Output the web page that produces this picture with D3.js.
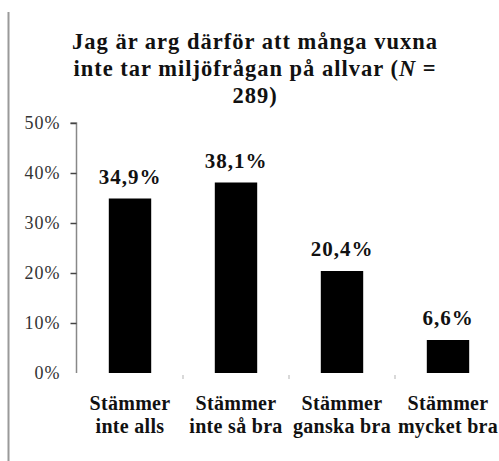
<!DOCTYPE html>
<html>
<head>
<meta charset="utf-8">
<script src="https://cdn.jsdelivr.net/npm/d3@7"></script>
<style>
  body { margin: 0; background: #fff; }
  svg { display: block; }
</style>
</head>
<body>
<div id="chart"></div>
<script>
const titleLines = ["Jag är arg därför att många vuxna", "inte tar miljöfrågan på allvar (", "289)"];
const categories = [["Stämmer", "inte alls"], ["Stämmer", "inte så bra"], ["Stämmer", "ganska bra"], ["Stämmer", "mycket bra"]];
const values = [34.9, 38.1, 20.4, 6.6];
const valueLabels = ["34,9%", "38,1%", "20,4%", "6,6%"];
const yTicks = [0, 10, 20, 30, 40, 50];

const W = 499, H = 461;
const FONT = "Liberation Serif";
const svg = d3.select("#chart").append("svg").attr("width", W).attr("height", H)
    .attr("font-family", FONT);

// grey frame line on the left
svg.append("line")
    .attr("x1", 8.5).attr("x2", 8.5).attr("y1", 12).attr("y2", H)
    .attr("stroke", "#9a9a9a").attr("stroke-width", 2);

const x = d3.scaleBand()
    .domain(d3.range(categories.length))
    .range([77, 501])
    .paddingInner(0.6)
    .paddingOuter(0.3);

const y = d3.scaleLinear().domain([0, 50]).range([373, 123]);

// title
const title = svg.append("text")
    .attr("font-family", FONT)
    .attr("text-anchor", "middle")
    .attr("font-weight", "bold")
    .attr("font-size", 22.5)
    .attr("letter-spacing", 1)
    .attr("fill", "#111");
title.append("tspan").attr("x", 255).attr("y", 49).text(titleLines[0]);
const l2 = title.append("tspan").attr("x", 255).attr("y", 76);
l2.append("tspan").text(titleLines[1]);
l2.append("tspan").attr("font-style", "italic").text("N");
l2.append("tspan").text(" =");
title.append("tspan").attr("x", 255).attr("y", 103).text(titleLines[2]);

// y axis
const yAxis = svg.append("g")
    .attr("transform", "translate(76.5,0)")
    .call(d3.axisLeft(y).tickValues(yTicks).tickSize(6).tickPadding(10).tickFormat(d => d + "%"));
yAxis.attr("font-family", FONT);
yAxis.select(".domain").attr("stroke", "#888").attr("stroke-width", 1.5).attr("d", `M-6,${y(50)}H0V${y(0)}`);
yAxis.selectAll(".tick line").attr("stroke", "#444").attr("stroke-width", 1.5);
yAxis.selectAll(".tick text")
    .attr("font-family", FONT)
    .attr("font-size", 18)
    .attr("letter-spacing", 1)
    .attr("fill", "#333");
yAxis.select(".tick:first-of-type line").remove();

// small category separator ticks
const step = x.step();
svg.append("g").selectAll("line")
    .data(d3.range(categories.length))
    .join("line")
    .attr("x1", d => x(d) + x.bandwidth() + (step - x.bandwidth()) / 2)
    .attr("x2", d => x(d) + x.bandwidth() + (step - x.bandwidth()) / 2)
    .attr("y1", y(0) + 2).attr("y2", y(0) + 6)
    .attr("stroke", "#ccc").attr("stroke-width", 1.5);

// bars
svg.append("g")
    .selectAll("rect")
    .data(values)
    .join("rect")
    .attr("x", (d, i) => x(i))
    .attr("y", d => y(d))
    .attr("width", x.bandwidth())
    .attr("height", d => y(0) - y(d))
    .attr("fill", "#000");

// value labels
svg.append("g")
    .selectAll("text")
    .data(values)
    .join("text")
    .attr("font-family", FONT)
    .attr("x", (d, i) => x(i) + x.bandwidth() / 2)
    .attr("y", d => y(d) - 15)
    .attr("text-anchor", "middle")
    .attr("font-weight", "bold")
    .attr("font-size", 21)
    .attr("letter-spacing", 1)
    .attr("fill", "#111")
    .text((d, i) => valueLabels[i]);

// category labels
const cat = svg.append("g")
    .selectAll("text")
    .data(categories)
    .join("text")
    .attr("font-family", FONT)
    .attr("text-anchor", "middle")
    .attr("font-weight", "bold")
    .attr("font-size", 20)
    .attr("letter-spacing", 0.3)
    .attr("fill", "#111");
cat.each(function (d, i) {
    const cx = x(i) + x.bandwidth() / 2;
    d3.select(this).selectAll("tspan")
        .data(d)
        .join("tspan")
        .attr("x", cx)
        .attr("y", (t, j) => 410 + j * 23)
        .text(t => t);
});
</script>
</body>
</html>
